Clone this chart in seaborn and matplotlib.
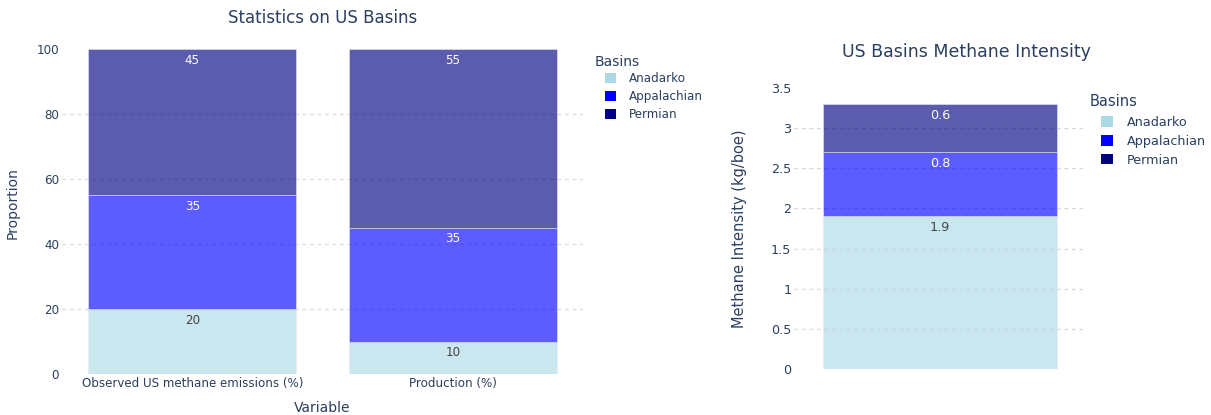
import matplotlib
matplotlib.use("Agg")
import matplotlib.pyplot as plt
from matplotlib.patches import Patch
import pandas as pd
import seaborn as sns

# --- data -------------------------------------------------------------
basins = ["Anadarko", "Appalachian", "Permian"]
variables = ["Observed US methane emissions (%)", "Production (%)"]
anadarko_share = [20, 10]
appalachian_share = [35, 35]
permian_share = [45, 55]

intensity_category = [""]
anadarko_intensity = [1.9]
appalachian_intensity = [0.8]
permian_intensity = [0.6]

# --- style ------------------------------------------------------------
sns.set_theme(style="white")
plt.rcParams["font.family"] = ["DejaVu Sans"]

TEXT = "#2a3f5f"
GRID = "#d6d9de"
basin_colors = {"Anadarko": "#add8e6", "Appalachian": "#0000ff", "Permian": "#000080"}
label_colors = {"Anadarko": "#444444", "Appalachian": "white", "Permian": "white"}
BAR_ALPHA = 0.64

W, H = 1211, 415
fig = plt.figure(figsize=(W / 100, H / 100), dpi=100)


def px_axes(left, top, right, bottom):
    return fig.add_axes([left / W, 1 - bottom / H, (right - left) / W, (bottom - top) / H])


def stacked(ax, cats, layers, label_size):
    df = pd.DataFrame({"cat": cats})
    base = [0.0] * len(cats)
    for name, vals in layers:
        df["val"] = vals
        sns.barplot(data=df, x="cat", y="val", bottom=base, color=basin_colors[name],
                    saturation=1, alpha=BAR_ALPHA, width=0.8, ax=ax,
                    edgecolor="#e8eaf6", linewidth=0.6, errorbar=None)
        for i, (b, v) in enumerate(zip(base, vals)):
            ax.annotate(f"{v:g}", xy=(i, b + v), xytext=(0, -8), textcoords="offset points",
                        ha="center", va="center", fontsize=label_size, color=label_colors[name])
        base = [b + v for b, v in zip(base, vals)]


def style_axes(ax, ticks, labels, hide_grid_at):
    sns.despine(ax=ax, left=True, bottom=True, top=True, right=True)
    ax.set_axisbelow(True)
    ax.set_yticks(ticks)
    ax.set_yticklabels(labels)
    ax.yaxis.grid(True, color=GRID, linestyle=(0, (3, 3)), linewidth=0.9)
    ax.xaxis.grid(False)
    for t, gl in zip(ticks, ax.yaxis.get_gridlines()):
        if t in hide_grid_at:
            gl.set_visible(False)
    ax.tick_params(axis="both", length=0, colors=TEXT)
    ax.tick_params(axis="y", pad=2)
    ax.tick_params(axis="x", pad=2)


def basin_legend(x_title, y_title, x_items, y_items, size, title_size, spacing):
    fig.text(x_title / W, 1 - y_title / H, "Basins", ha="left", va="center",
             fontsize=title_size, color=TEXT)
    handles = [Patch(facecolor=basin_colors[b], edgecolor="none", label=b) for b in basins]
    leg = fig.legend(handles=handles, loc="upper left",
                     bbox_to_anchor=(x_items / W, 1 - y_items / H), frameon=False,
                     fontsize=size, handlelength=0.9, handleheight=0.9,
                     handletextpad=1.1, labelspacing=spacing, borderaxespad=0,
                     borderpad=0)
    for t in leg.get_texts():
        t.set_color(TEXT)
    return leg


# --- left panel: shares -----------------------------------------------
ax1 = px_axes(62, 32, 583, 374)
stacked(ax1, variables,
        [("Anadarko", anadarko_share), ("Appalachian", appalachian_share),
         ("Permian", permian_share)], 8.6)
ax1.set_xlim(-0.5, 1.5)
ax1.set_ylim(0, 105.26)
style_axes(ax1, [0, 20, 40, 60, 80, 100], ["0", "20", "40", "60", "80", "100"], {0, 100})
ax1.tick_params(axis="both", labelsize=8.6)
ax1.set_xlabel("Variable", fontsize=10, color=TEXT, labelpad=8)
ax1.set_ylabel("Proportion", fontsize=10, color=TEXT, labelpad=12)
fig.text(323 / W, 1 - 18 / H, "Statistics on US Basins", ha="center", va="center",
         fontsize=12, color=TEXT)

# --- right panel: intensity -------------------------------------------
ax2 = px_axes(794, 88, 1086, 369)
stacked(ax2, intensity_category,
        [("Anadarko", anadarko_intensity), ("Appalachian", appalachian_intensity),
         ("Permian", permian_intensity)], 9.2)
ax2.set_xlim(-0.5, 0.5)
ax2.set_ylim(0, 3.5)
style_axes(ax2, [0, 0.5, 1, 1.5, 2, 2.5, 3, 3.5],
           ["0", "0.5", "1", "1.5", "2", "2.5", "3", "3.5"], {0, 3.5})
ax2.tick_params(axis="y", labelsize=9.2)
ax2.set_xticks([])
ax2.set_xlabel("")
ax2.set_ylabel("Methane Intensity (kg/boe)", fontsize=10.5, color=TEXT, labelpad=17)
fig.text(966 / W, 1 - 52 / H, "US Basins Methane Intensity", ha="center", va="center",
         fontsize=12.5, color=TEXT)

# --- legends ----------------------------------------------------------
basin_legend(595, 62, 605, 72, 8.6, 10, 0.42)
basin_legend(1090, 101, 1101, 116, 9.2, 10.5, 0.45)

fig.savefig("out.png", dpi=100, facecolor="white")
